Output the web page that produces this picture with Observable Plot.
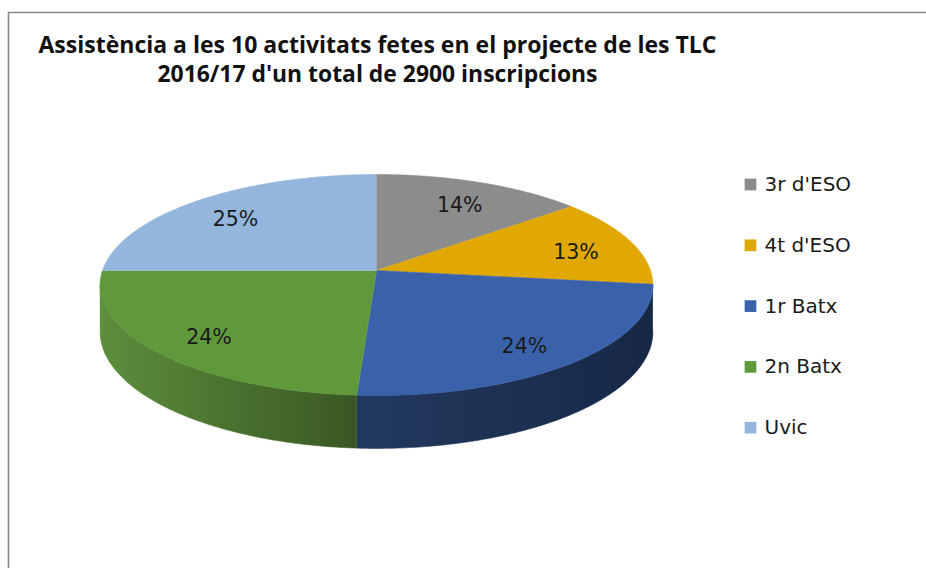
<!DOCTYPE html>
<html>
<head>
<meta charset="utf-8">
<script src="https://cdn.jsdelivr.net/npm/d3@7"></script>
<script src="https://cdn.jsdelivr.net/npm/@observablehq/plot@0.6"></script>
<style>
html, body { margin: 0; padding: 0; background: #fff; }
#chart { width: 926px; height: 568px; }
</style>
</head>
<body>
<div id="chart"></div>
<script>
// ---- data ----
const categories = ["3r d'ESO", "4t d'ESO", "1r Batx", "2n Batx", "Uvic"];
const percents = [14, 13, 24, 24, 25];
const titleLines = [
  "Assistència a les 10 activitats fetes en el projecte de les TLC",
  "2016/17 d'un total de 2900 inscripcions"
];
// ---- styles ----
const colors = ["#8c8c8c", "#e0a800", "#3a62ab", "#5f993c", "#94b6dd"];
const sideLight = ["#6f6f6f", "#b08400", "#23395f", "#5c8e3c", "#7693b4"];
const sideDark = ["#555555", "#8a6700", "#172846", "#3a5723", "#5a7390"];

// ---- layout ----
const W = 926, H = 568;
const CX = 376, CY = 270, RX = 274, RY = 108.6, PERSP = 0.131, DEPTH = 46;
const LABEL_R = 0.78, LABEL_DY = 5;
const LEG_X = 750, LEG_Y0 = 184, LEG_DY = 60.8;

function proj(theta, r = 1, drop = 0) {
  const u = r * Math.sin(theta), v = -r * Math.cos(theta);
  const s = 1 / (1 - PERSP * v);
  return [CX + RX * u * s, CY + (RY * v + drop) * s];
}

const data = categories.map((c, i) => ({cat: c, pct: percents[i], i}));
const arcs = d3.pie().sort(null).value(d => d.pct)(data);
const STEP = Math.PI / 360;
function arcPts(a0, a1, drop) {
  const n = Math.max(2, Math.ceil((a1 - a0) / STEP));
  return d3.range(n + 1).map(j => proj(a0 + (a1 - a0) * j / n, 1, drop));
}

const topFaces = arcs.flatMap(a =>
  [proj(0, 0), ...arcPts(a.startAngle, a.endAngle, 0)].map(([x, y]) => ({cat: a.data.cat, x, y}))
);

const lo = Math.acos(-PERSP), hi = 2 * Math.PI - lo;
const sides = arcs.map(a => {
  const a0 = Math.max(a.startAngle, lo), a1 = Math.min(a.endAngle, hi);
  if (a1 <= a0) return null;
  const pts = [...arcPts(a0, a1, 0), ...arcPts(a0, a1, DEPTH).reverse()].map(([x, y]) => ({x, y}));
  return {i: a.data.i, pts, xmin: d3.min(pts, d => d.x), xmax: d3.max(pts, d => d.x)};
}).filter(Boolean);

const labels = arcs.map(a => {
  const [x, y] = proj((a.startAngle + a.endAngle) / 2, LABEL_R, 0);
  return {x, y: y + LABEL_DY, text: `${a.data.pct}%`};
});

const legend = categories.map((c, i) => ({cat: c, row: i}));
const titles = titleLines.map((t, i) => ({t, row: i}));

const plot = Plot.plot({
  width: W, height: H,
  margin: 0,
  x: {domain: [0, W], range: [0, W], axis: null},
  y: {domain: [0, H], range: [0, H], axis: null},
  color: {domain: categories, range: colors},
  style: {background: "white", overflow: "visible"},
  marks: [
    Plot.ruleY([12], {x1: 8, x2: W, stroke: "#8a8a8a", strokeWidth: 1.6}),
    Plot.ruleX([8], {y1: 12, y2: H, stroke: "#8a8a8a", strokeWidth: 1.6}),
    ...sides.map(s => Plot.line(s.pts, {x: "x", y: "y", fill: `url(#side${s.i})`, stroke: `url(#side${s.i})`, strokeWidth: 0.6})),
    Plot.line(topFaces, {x: "x", y: "y", z: "cat", fill: "cat", stroke: "cat", strokeWidth: 0.6}),
    Plot.text(labels, {x: "x", y: "y", text: "text", fontSize: 20.5, fill: "#1a1a1a", fontFamily: "DejaVu Sans"}),
    Plot.dot(legend, {x: () => LEG_X, y: d => LEG_Y0 + d.row * LEG_DY, fill: "cat", symbol: "square", r: 6.6}),
    Plot.text(legend, {x: () => LEG_X + 14, y: d => LEG_Y0 + d.row * LEG_DY, text: "cat", textAnchor: "start", fontSize: 20, fill: "#1a1a1a", fontFamily: "DejaVu Sans"}),
    Plot.text(titles, {x: () => 377, y: d => 45 + d.row * 29, text: "t", fontSize: 23, fontWeight: "bold", fill: "#111", fontFamily: "'Liberation Sans Narrow', 'Open Sans', sans-serif"})
  ]
});

const svg = d3.select(plot);
const defs = svg.insert("defs", ":first-child");
for (const s of sides) {
  const g = defs.append("linearGradient")
    .attr("id", `side${s.i}`)
    .attr("gradientUnits", "userSpaceOnUse")
    .attr("x1", s.xmin).attr("x2", s.xmax).attr("y1", 0).attr("y2", 0);
  g.append("stop").attr("offset", 0).attr("stop-color", sideLight[s.i]);
  g.append("stop").attr("offset", 1).attr("stop-color", sideDark[s.i]);
}
const titleWidths = [678, 440];
svg.selectAll("text").each(function() {
  const idx = titleLines.indexOf(this.textContent);
  if (idx >= 0) {
    this.setAttribute("textLength", titleWidths[idx]);
    this.setAttribute("lengthAdjust", "spacingAndGlyphs");
  }
});
document.getElementById("chart").appendChild(plot);
</script>
</body>
</html>
